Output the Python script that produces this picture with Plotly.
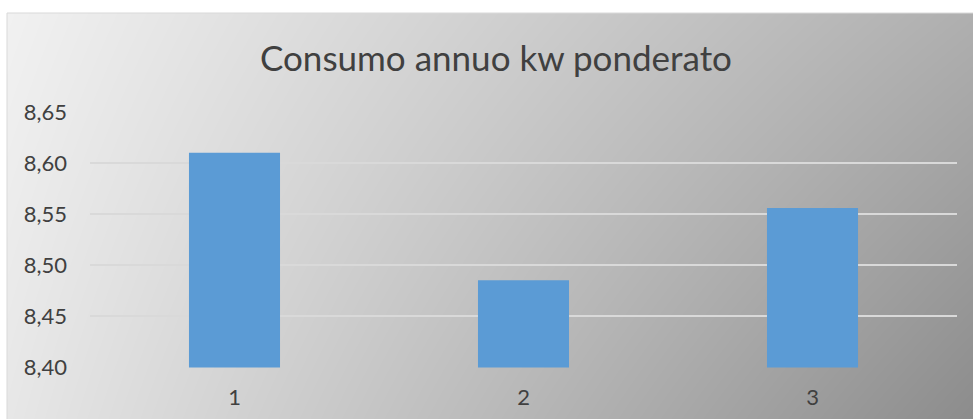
import plotly.graph_objects as go

# Data
categories = ["1", "2", "3"]
consumo = [8.610, 8.485, 8.556]
y_ticks = [8.40, 8.45, 8.50, 8.55, 8.60, 8.65]
title_text = "Consumo annuo kw ponderato"

# Corner greys of the background gradient (bottom-left, bottom-right, top-left, top-right)
bg_bottom = [231, 140]
bg_top = [241, 175]

W, H = 973, 419
font_name = "Lato"
text_color = "#404040"

fig = go.Figure()

# Background gradient drawn as a smoothed 2x2 heatmap behind the chart
fig.add_trace(go.Heatmap(
    z=[bg_bottom, bg_top],
    x=[0, 1],
    y=[0, 1],
    zsmooth="best",
    zmin=0,
    zmax=255,
    colorscale=[[0, "rgb(0,0,0)"], [1, "rgb(255,255,255)"]],
    showscale=False,
    hoverinfo="skip",
    xaxis="x",
    yaxis="y",
))

# Bars
fig.add_trace(go.Bar(
    x=categories,
    y=consumo,
    marker=dict(color="#5b9bd5", line=dict(width=0)),
    xaxis="x2",
    yaxis="y2",
))

fig.update_layout(
    width=W,
    height=H,
    autosize=False,
    margin=dict(l=0, r=0, t=0, b=0, pad=0),
    paper_bgcolor="white",
    plot_bgcolor="rgba(0,0,0,0)",
    separators=",.",
    showlegend=False,
    bargap=0.685,
    font=dict(family=font_name, color=text_color),
    xaxis=dict(domain=[7 / W, 1], range=[0, 1], visible=False,
               fixedrange=True, automargin=False),
    yaxis=dict(domain=[0, 1 - 13 / H], range=[0, 1], visible=False,
               fixedrange=True, automargin=False),
    xaxis2=dict(
        domain=[90 / W, 957 / W],
        anchor="y2",
        automargin=False,
        showgrid=False,
        showline=False,
        ticks="",
        tickfont=dict(size=22, color=text_color),
        ticklabelstandoff=14,
    ),
    yaxis2=dict(
        domain=[1 - 367.5 / H, 1 - 111.5 / H],
        anchor="x2",
        automargin=False,
        # a hair wider than 8.40-8.65 so both edge gridlines get drawn
        range=[8.3995, 8.6505],
        tickvals=y_ticks,
        tickformat=".2f",
        showgrid=True,
        gridcolor="#d9d9d9",
        gridwidth=1.5,
        zeroline=False,
        showline=False,
        ticks="",
        tickfont=dict(size=22, color=text_color),
        ticklabelstandoff=22,
    ),
    shapes=[dict(
        type="rect", xref="paper", yref="paper",
        x0=7 / W, x1=1.01, y0=-0.01, y1=1 - 13 / H,
        line=dict(color="#d9d9d9", width=1),
    )],
    annotations=[dict(
        text=title_text,
        xref="paper", yref="paper",
        x=496 / W, y=1 - 57 / H,
        xanchor="center", yanchor="middle",
        showarrow=False,
        font=dict(family=font_name, size=35, color=text_color),
    )],
)

# page has a default 8px body margin; drop it so the chart sits at the window corner
fig.write_html(
    "out.html",
    config={"displayModeBar": False},
    post_script="document.body.style.margin = '0';",
)
